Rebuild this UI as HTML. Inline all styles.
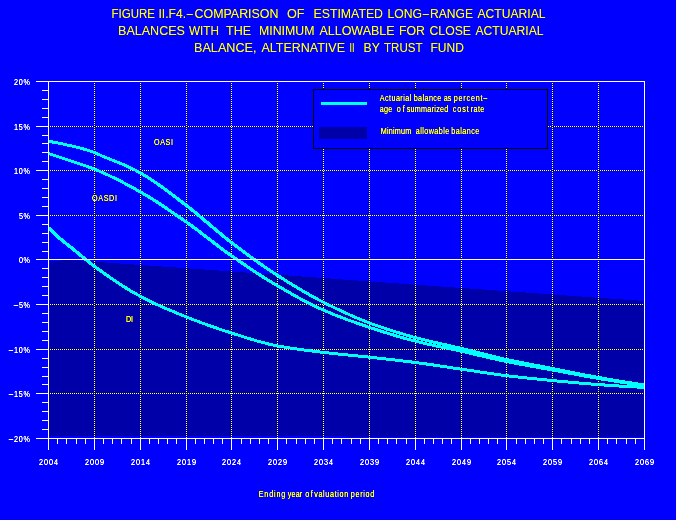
<!DOCTYPE html>
<html lang="en"><head><meta charset="utf-8"><title>Figure II.F4</title>
<style>html,body{margin:0;padding:0;background:#0000ff;overflow:hidden}svg{display:block}text{font-family:"Liberation Sans",Arial,Helvetica,sans-serif;white-space:pre}.t{fill:#ffff00;font-size:12px}.s{fill:#ffff00;font-size:9px}.w{fill:#ffffff;font-size:8.5px}</style></head><body>
<svg width="676" height="520" viewBox="0 0 676 520">
<rect x="0" y="0" width="676" height="520" fill="#0000ff"/>
<defs><filter id="cr" x="0" y="0" width="100%" height="100%" filterUnits="userSpaceOnUse" color-interpolation-filters="sRGB"><feComponentTransfer><feFuncA type="linear" slope="1.5" intercept="0"/></feComponentTransfer></filter><filter id="ct" x="0" y="0" width="100%" height="100%" filterUnits="userSpaceOnUse" color-interpolation-filters="sRGB"><feComponentTransfer><feFuncA type="linear" slope="1.15" intercept="0"/></feComponentTransfer></filter></defs>
<g shape-rendering="crispEdges">
<path d="M49,436V348H50V261H61V260H78V261H95V262H106V263H120V264H134V265H148V266H162V267H176V268H190V269H204V270H218V271H232V272H246V273H260V274H274V275H288V276H302V277H316V278H330V279H343V280H357V281H371V282H385V283H399V284H413V285H427V286H441V287H455V288H469V289H483V290H497V291H511V292H525V293H539V294H553V295H567V296H581V297H595V298H609V299H623V300H637V301H644V437H346V436Z" fill="#0000a8"/>
<rect x="49" y="126" width="595" height="1" fill="#000"/>
<line x1="50" y1="126.5" x2="644" y2="126.5" stroke="#fff" stroke-width="1" stroke-dasharray="1 1"/>
<rect x="49" y="170" width="595" height="1" fill="#000"/>
<line x1="50" y1="170.5" x2="644" y2="170.5" stroke="#fff" stroke-width="1" stroke-dasharray="1 1"/>
<rect x="49" y="215" width="595" height="1" fill="#000"/>
<line x1="50" y1="215.5" x2="644" y2="215.5" stroke="#fff" stroke-width="1" stroke-dasharray="1 1"/>
<rect x="49" y="304" width="595" height="1" fill="#000"/>
<line x1="50" y1="304.5" x2="644" y2="304.5" stroke="#fff" stroke-width="1" stroke-dasharray="1 1"/>
<rect x="49" y="349" width="595" height="1" fill="#000"/>
<line x1="50" y1="349.5" x2="644" y2="349.5" stroke="#fff" stroke-width="1" stroke-dasharray="1 1"/>
<rect x="49" y="393" width="595" height="1" fill="#000"/>
<line x1="50" y1="393.5" x2="644" y2="393.5" stroke="#fff" stroke-width="1" stroke-dasharray="1 1"/>
<rect x="94" y="82" width="1" height="356" fill="#000"/>
<line x1="94.5" y1="83" x2="94.5" y2="438" stroke="#fff" stroke-width="1" stroke-dasharray="1 1"/>
<rect x="140" y="82" width="1" height="356" fill="#000"/>
<line x1="140.5" y1="83" x2="140.5" y2="438" stroke="#fff" stroke-width="1" stroke-dasharray="1 1"/>
<rect x="186" y="82" width="1" height="356" fill="#000"/>
<line x1="186.5" y1="83" x2="186.5" y2="438" stroke="#fff" stroke-width="1" stroke-dasharray="1 1"/>
<rect x="231" y="82" width="1" height="356" fill="#000"/>
<line x1="231.5" y1="83" x2="231.5" y2="438" stroke="#fff" stroke-width="1" stroke-dasharray="1 1"/>
<rect x="277" y="82" width="1" height="356" fill="#000"/>
<line x1="277.5" y1="83" x2="277.5" y2="438" stroke="#fff" stroke-width="1" stroke-dasharray="1 1"/>
<rect x="323" y="82" width="1" height="356" fill="#000"/>
<line x1="323.5" y1="83" x2="323.5" y2="438" stroke="#fff" stroke-width="1" stroke-dasharray="1 1"/>
<rect x="369" y="82" width="1" height="356" fill="#000"/>
<line x1="369.5" y1="83" x2="369.5" y2="438" stroke="#fff" stroke-width="1" stroke-dasharray="1 1"/>
<rect x="415" y="82" width="1" height="356" fill="#000"/>
<line x1="415.5" y1="83" x2="415.5" y2="438" stroke="#fff" stroke-width="1" stroke-dasharray="1 1"/>
<rect x="461" y="82" width="1" height="356" fill="#000"/>
<line x1="461.5" y1="83" x2="461.5" y2="438" stroke="#fff" stroke-width="1" stroke-dasharray="1 1"/>
<rect x="506" y="82" width="1" height="356" fill="#000"/>
<line x1="506.5" y1="83" x2="506.5" y2="438" stroke="#fff" stroke-width="1" stroke-dasharray="1 1"/>
<rect x="552" y="82" width="1" height="356" fill="#000"/>
<line x1="552.5" y1="83" x2="552.5" y2="438" stroke="#fff" stroke-width="1" stroke-dasharray="1 1"/>
<rect x="598" y="82" width="1" height="356" fill="#000"/>
<line x1="598.5" y1="83" x2="598.5" y2="438" stroke="#fff" stroke-width="1" stroke-dasharray="1 1"/>
</g>
<clipPath id="pc"><rect x="49" y="82" width="595" height="356"/></clipPath>
<g shape-rendering="crispEdges" fill="#00ffff" stroke="none" clip-path="url(#pc)">
<polygon points="48.5,139.8 48.6,139.8 53.2,140.6 57.8,141.5 62.4,142.4 67.0,143.4 71.5,144.4 76.1,145.5 80.7,146.7 85.3,148.0 90.0,149.4 94.6,150.9 99.3,153.1 103.8,155.1 108.4,157.0 113.0,158.7 117.5,160.5 122.2,162.4 126.8,164.4 131.4,166.6 136.0,168.8 140.7,171.3 145.3,174.0 149.9,176.9 154.6,179.9 159.2,183.1 163.8,186.4 168.4,189.8 173.0,193.2 177.6,196.7 182.2,200.2 186.8,203.7 191.4,207.3 196.0,211.0 200.6,214.8 205.2,218.7 209.8,222.6 214.4,226.5 219.0,230.3 223.5,234.1 228.1,237.8 232.6,241.4 237.2,244.9 241.8,248.3 246.3,251.7 250.9,255.1 255.5,258.4 260.0,261.7 264.6,264.9 269.2,268.0 273.7,271.1 278.3,274.0 282.9,277.0 287.4,279.9 292.0,282.7 296.6,285.5 301.2,288.2 305.7,290.9 310.3,293.5 314.8,296.0 319.4,298.5 324.0,300.8 328.6,303.2 333.1,305.4 337.7,307.6 342.3,309.8 346.8,311.9 351.4,314.0 356.0,316.0 360.5,317.9 365.1,319.7 369.7,321.5 374.2,323.2 378.8,324.8 383.4,326.3 388.0,327.9 392.5,329.3 397.1,330.8 401.7,332.1 406.3,333.5 410.8,334.8 415.4,336.0 420.0,337.3 424.6,338.4 429.2,339.5 433.7,340.6 438.3,341.7 442.9,342.7 447.5,343.7 452.1,344.8 456.7,345.8 461.2,346.9 465.8,348.0 470.4,349.2 475.0,350.3 479.6,351.5 484.2,352.6 488.8,353.8 493.3,354.9 497.9,356.0 502.5,357.1 507.1,358.1 511.7,359.1 516.2,360.0 520.8,360.9 525.4,361.8 530.0,362.7 534.6,363.6 539.1,364.4 543.7,365.3 548.3,366.2 552.9,367.1 557.5,368.0 562.1,368.9 566.7,369.8 571.2,370.7 575.8,371.6 580.4,372.6 585.0,373.5 589.6,374.3 594.2,375.2 598.7,376.0 603.3,376.8 607.9,377.6 612.5,378.4 617.1,379.2 621.6,379.9 626.2,380.7 630.8,381.4 635.4,382.1 640.0,382.8 644.6,383.5 644.5,386.5 644.4,386.5 639.9,385.8 635.3,385.1 630.7,384.4 626.1,383.7 621.5,382.9 616.9,382.2 612.3,381.4 607.7,380.6 603.2,379.8 598.6,379.0 594.0,378.2 589.4,377.3 584.8,376.5 580.2,375.6 575.6,374.6 571.0,373.7 566.5,372.8 561.9,371.9 557.3,371.0 552.7,370.1 548.1,369.2 543.5,368.3 539.0,367.4 534.4,366.6 529.8,365.7 525.2,364.8 520.6,363.9 516.0,363.0 511.4,362.1 506.9,361.1 502.3,360.1 497.7,359.0 493.1,357.9 488.5,356.8 483.9,355.6 479.3,354.5 474.7,353.3 470.1,352.2 465.6,351.0 461.0,349.9 456.4,348.8 451.8,347.8 447.2,346.7 442.7,345.7 438.1,344.7 433.5,343.6 428.9,342.5 424.3,341.4 419.7,340.3 415.1,339.0 410.5,337.8 405.9,336.5 401.3,335.1 396.7,333.8 392.2,332.3 387.6,330.9 383.0,329.3 378.4,327.8 373.8,326.2 369.2,324.5 364.6,322.7 360.0,320.9 355.4,319.0 350.8,317.0 346.2,314.9 341.6,312.8 337.0,310.6 332.4,308.4 327.8,306.2 323.2,303.8 318.6,301.5 314.0,299.0 309.4,296.5 304.8,293.9 300.2,291.2 295.6,288.5 291.0,285.7 286.4,282.9 281.8,280.0 277.2,277.0 272.6,274.1 268.0,271.0 263.3,267.9 258.7,264.7 254.1,261.4 249.5,258.1 244.9,254.7 240.3,251.3 235.7,247.9 231.1,244.4 226.5,240.8 221.9,237.1 217.3,233.3 212.7,229.5 208.1,225.6 203.5,221.7 199.0,217.8 194.4,214.0 189.9,210.3 185.3,206.7 180.7,203.2 176.1,199.7 171.6,196.2 167.0,192.8 162.4,189.4 157.9,186.1 153.3,182.9 148.8,179.9 144.3,177.0 139.7,174.3 135.2,171.8 130.7,169.6 126.1,167.4 121.5,165.4 117.0,163.5 112.4,161.7 107.8,160.0 103.2,158.1 98.6,156.1 94.1,153.9 89.6,152.4 85.0,151.0 80.4,149.7 75.9,148.5 71.3,147.4 66.7,146.4 62.1,145.4 57.6,144.5 53.0,143.6 48.4,142.8"/>
<polygon points="48.5,152.0 48.7,152.0 53.3,153.5 57.9,155.0 62.5,156.6 67.1,158.1 71.6,159.6 76.2,161.2 80.8,162.7 85.4,164.2 90.0,165.9 94.6,167.6 99.2,169.5 103.8,171.5 108.4,173.6 113.1,175.8 117.7,178.0 122.3,180.4 126.9,182.8 131.5,185.2 136.1,187.8 140.7,190.3 145.3,193.0 149.9,195.7 154.5,198.6 159.1,201.5 163.7,204.6 168.3,207.7 172.9,210.8 177.5,214.0 182.1,217.2 186.7,220.4 191.3,223.6 195.9,227.0 200.5,230.4 205.1,234.0 209.7,237.5 214.3,241.0 218.9,244.5 223.4,248.0 228.0,251.3 232.5,254.6 237.1,257.7 241.7,260.9 246.3,264.0 250.8,267.1 255.4,270.2 260.0,273.1 264.5,276.1 269.1,278.9 273.7,281.7 278.2,284.4 282.8,287.1 287.4,289.7 291.9,292.3 296.5,294.9 301.1,297.4 305.7,299.8 310.2,302.1 314.8,304.4 319.3,306.6 323.9,308.6 328.5,310.6 333.0,312.5 337.6,314.4 342.2,316.1 346.7,317.9 351.3,319.5 355.9,321.2 360.5,322.8 365.1,324.3 369.6,325.9 374.2,327.4 378.8,328.9 383.4,330.4 388.0,331.8 392.5,333.2 397.1,334.6 401.7,335.9 406.3,337.2 410.8,338.4 415.4,339.6 420.0,340.8 424.6,341.9 429.1,342.9 433.7,343.9 438.3,344.9 442.9,345.8 447.5,346.8 452.1,347.7 456.6,348.7 461.2,349.7 465.8,350.7 470.4,351.8 475.0,352.9 479.6,353.9 484.2,355.0 488.7,356.1 493.3,357.1 497.9,358.2 502.5,359.1 507.1,360.1 511.6,361.0 516.2,361.9 520.8,362.8 525.4,363.6 530.0,364.4 534.6,365.2 539.1,366.1 543.7,366.9 548.3,367.7 552.9,368.6 557.5,369.4 562.1,370.3 566.7,371.2 571.2,372.0 575.8,372.9 580.4,373.8 585.0,374.6 589.6,375.4 594.1,376.2 598.7,377.0 603.3,377.8 607.9,378.5 612.5,379.3 617.1,380.0 621.6,380.7 626.2,381.4 630.8,382.1 635.4,382.7 640.0,383.4 644.6,384.0 644.5,387.0 644.4,387.0 639.9,386.4 635.3,385.7 630.7,385.1 626.1,384.4 621.5,383.7 616.9,383.0 612.3,382.3 607.8,381.5 603.2,380.8 598.6,380.0 594.0,379.2 589.4,378.4 584.8,377.6 580.2,376.8 575.6,375.9 571.1,375.0 566.5,374.2 561.9,373.3 557.3,372.4 552.7,371.6 548.1,370.7 543.6,369.9 539.0,369.1 534.4,368.2 529.8,367.4 525.2,366.6 520.6,365.8 516.0,364.9 511.5,364.0 506.9,363.1 502.3,362.1 497.7,361.2 493.1,360.1 488.5,359.1 483.9,358.0 479.3,356.9 474.7,355.9 470.2,354.8 465.6,353.7 461.0,352.7 456.4,351.7 451.8,350.7 447.3,349.8 442.7,348.8 438.1,347.9 433.5,346.9 428.9,345.9 424.3,344.9 419.7,343.8 415.1,342.6 410.5,341.4 405.9,340.2 401.3,338.9 396.8,337.6 392.2,336.2 387.6,334.8 383.0,333.4 378.4,331.9 373.8,330.4 369.2,328.9 364.6,327.3 360.0,325.8 355.4,324.2 350.8,322.5 346.3,320.9 341.7,319.1 337.1,317.4 332.5,315.5 327.9,313.6 323.3,311.6 318.6,309.6 314.0,307.4 309.4,305.1 304.8,302.8 300.2,300.4 295.6,297.9 291.0,295.3 286.4,292.7 281.8,290.1 277.2,287.4 272.6,284.7 268.0,281.9 263.4,279.1 258.8,276.1 254.2,273.2 249.6,270.1 245.0,267.0 240.4,263.9 235.8,260.7 231.2,257.6 226.6,254.3 222.0,251.0 217.4,247.5 212.8,244.0 208.2,240.5 203.6,237.0 199.1,233.4 194.5,230.0 189.9,226.6 185.4,223.4 180.8,220.2 176.2,217.0 171.7,213.8 167.1,210.7 162.5,207.6 158.0,204.5 153.4,201.6 148.8,198.7 144.3,196.0 139.7,193.3 135.2,190.8 130.6,188.2 126.0,185.8 121.4,183.4 116.9,181.0 112.3,178.8 107.8,176.6 103.2,174.5 98.6,172.5 94.1,170.6 89.5,168.9 85.0,167.2 80.4,165.7 75.8,164.2 71.2,162.6 66.6,161.1 62.0,159.6 57.5,158.0 52.9,156.5 48.3,155.0"/>
<polygon points="48.5,226.5 49.5,226.5 54.1,231.0 58.6,235.1 63.1,238.9 67.6,242.6 72.2,246.2 76.8,250.0 81.4,253.8 86.0,257.6 90.5,261.3 95.1,264.8 99.6,268.1 104.2,271.4 108.7,274.6 113.3,277.8 117.9,280.9 122.4,283.9 127.0,286.8 131.5,289.6 136.1,292.2 140.6,294.7 145.2,297.1 149.7,299.4 154.3,301.6 158.9,303.8 163.4,305.8 168.0,307.8 172.6,309.7 177.2,311.6 181.7,313.5 186.3,315.3 190.9,317.1 195.5,318.9 200.0,320.6 204.6,322.3 209.2,324.0 213.8,325.6 218.3,327.1 222.9,328.7 227.5,330.2 232.1,331.6 236.7,333.1 241.2,334.5 245.8,336.0 250.4,337.4 255.0,338.8 259.6,340.1 264.1,341.3 268.7,342.5 273.3,343.5 277.8,344.4 282.4,345.3 287.0,346.0 291.5,346.8 296.1,347.4 300.7,348.1 305.3,348.7 309.9,349.2 314.5,349.8 319.0,350.4 323.6,350.9 328.2,351.4 332.8,351.9 337.4,352.4 342.0,352.9 346.5,353.4 351.1,353.8 355.7,354.3 360.3,354.7 364.9,355.2 369.5,355.7 374.0,356.2 378.6,356.7 383.2,357.2 387.8,357.7 392.4,358.2 397.0,358.7 401.6,359.3 406.1,359.8 410.7,360.4 415.3,361.0 419.9,361.6 424.5,362.2 429.1,362.9 433.7,363.5 438.3,364.2 442.8,364.9 447.4,365.6 452.0,366.3 456.6,367.0 461.2,367.6 465.8,368.3 470.3,369.0 474.9,369.7 479.5,370.4 484.1,371.1 488.7,371.8 493.3,372.4 497.8,373.1 502.4,373.7 507.0,374.3 511.6,374.8 516.2,375.3 520.8,375.8 525.3,376.3 529.9,376.8 534.5,377.2 539.1,377.7 543.7,378.1 548.3,378.6 552.8,379.0 557.4,379.5 562.0,379.9 566.6,380.4 571.2,380.8 575.8,381.2 580.3,381.6 584.9,382.0 589.5,382.4 594.1,382.8 598.7,383.1 603.3,383.4 607.8,383.8 612.4,384.1 617.0,384.4 621.6,384.7 626.2,384.9 630.8,385.2 635.3,385.4 639.9,385.7 644.5,385.9 644.5,388.9 644.5,388.9 639.9,388.7 635.3,388.4 630.7,388.2 626.1,387.9 621.6,387.7 617.0,387.4 612.4,387.1 607.8,386.8 603.2,386.4 598.6,386.1 594.0,385.8 589.5,385.4 584.9,385.0 580.3,384.6 575.7,384.2 571.1,383.8 566.5,383.4 561.9,382.9 557.4,382.5 552.8,382.0 548.2,381.6 543.6,381.1 539.0,380.7 534.4,380.2 529.8,379.8 525.3,379.3 520.7,378.8 516.1,378.3 511.5,377.8 506.9,377.3 502.3,376.7 497.7,376.1 493.1,375.4 488.6,374.8 484.0,374.1 479.4,373.4 474.8,372.7 470.2,372.0 465.6,371.3 461.1,370.6 456.5,370.0 451.9,369.3 447.3,368.6 442.7,367.9 438.1,367.2 433.5,366.5 429.0,365.9 424.4,365.2 419.8,364.6 415.2,364.0 410.6,363.4 406.1,362.8 401.5,362.3 396.9,361.7 392.3,361.2 387.7,360.7 383.1,360.2 378.6,359.7 374.0,359.2 369.4,358.7 364.8,358.2 360.2,357.7 355.6,357.3 351.1,356.8 346.5,356.4 341.9,355.9 337.3,355.4 332.7,354.9 328.1,354.4 323.5,353.9 318.9,353.4 314.4,352.8 309.8,352.2 305.2,351.7 300.6,351.1 296.0,350.4 291.4,349.8 286.8,349.0 282.2,348.3 277.6,347.4 273.0,346.5 268.4,345.5 263.8,344.3 259.2,343.1 254.6,341.8 250.0,340.4 245.4,339.0 240.9,337.5 236.3,336.1 231.7,334.6 227.1,333.2 222.5,331.7 217.9,330.1 213.3,328.6 208.7,327.0 204.1,325.3 199.5,323.6 194.9,321.9 190.4,320.1 185.8,318.3 181.2,316.5 176.6,314.6 172.0,312.7 167.4,310.8 162.8,308.8 158.2,306.8 153.6,304.6 149.0,302.4 144.4,300.1 139.8,297.7 135.1,295.2 130.5,292.6 125.9,289.8 121.3,286.9 116.7,283.9 112.1,280.8 107.5,277.6 102.9,274.4 98.3,271.1 93.6,267.8 89.0,264.3 84.4,260.6 79.8,256.8 75.2,253.0 70.6,249.2 66.1,245.6 61.4,241.9 56.8,238.1 52.1,234.0 47.5,229.5"/>
</g>
<g shape-rendering="crispEdges" fill="#fff">
<rect x="36" y="259" width="608" height="1"/>
<rect x="36" y="81" width="609" height="1"/>
<rect x="36" y="438" width="609" height="1"/>
<rect x="48" y="81" width="1" height="369"/>
<rect x="644" y="81" width="1" height="369"/>
<rect x="36" y="81" width="12" height="1"/>
<rect x="42" y="90" width="6" height="1"/>
<rect x="42" y="99" width="6" height="1"/>
<rect x="42" y="108" width="6" height="1"/>
<rect x="42" y="117" width="6" height="1"/>
<rect x="36" y="126" width="12" height="1"/>
<rect x="42" y="135" width="6" height="1"/>
<rect x="42" y="143" width="6" height="1"/>
<rect x="42" y="152" width="6" height="1"/>
<rect x="42" y="161" width="6" height="1"/>
<rect x="36" y="170" width="12" height="1"/>
<rect x="42" y="179" width="6" height="1"/>
<rect x="42" y="188" width="6" height="1"/>
<rect x="42" y="197" width="6" height="1"/>
<rect x="42" y="206" width="6" height="1"/>
<rect x="36" y="215" width="12" height="1"/>
<rect x="42" y="224" width="6" height="1"/>
<rect x="42" y="233" width="6" height="1"/>
<rect x="42" y="242" width="6" height="1"/>
<rect x="42" y="251" width="6" height="1"/>
<rect x="36" y="259" width="12" height="1"/>
<rect x="42" y="268" width="6" height="1"/>
<rect x="42" y="277" width="6" height="1"/>
<rect x="42" y="286" width="6" height="1"/>
<rect x="42" y="295" width="6" height="1"/>
<rect x="36" y="304" width="12" height="1"/>
<rect x="42" y="313" width="6" height="1"/>
<rect x="42" y="322" width="6" height="1"/>
<rect x="42" y="331" width="6" height="1"/>
<rect x="42" y="340" width="6" height="1"/>
<rect x="36" y="349" width="12" height="1"/>
<rect x="42" y="358" width="6" height="1"/>
<rect x="42" y="367" width="6" height="1"/>
<rect x="42" y="376" width="6" height="1"/>
<rect x="42" y="384" width="6" height="1"/>
<rect x="36" y="393" width="12" height="1"/>
<rect x="42" y="402" width="6" height="1"/>
<rect x="42" y="411" width="6" height="1"/>
<rect x="42" y="420" width="6" height="1"/>
<rect x="42" y="429" width="6" height="1"/>
<rect x="36" y="438" width="12" height="1"/>
<rect x="48" y="438" width="1" height="12"/>
<rect x="57" y="438" width="1" height="6"/>
<rect x="66" y="438" width="1" height="6"/>
<rect x="76" y="438" width="1" height="6"/>
<rect x="85" y="438" width="1" height="6"/>
<rect x="94" y="438" width="1" height="12"/>
<rect x="103" y="438" width="1" height="6"/>
<rect x="112" y="438" width="1" height="6"/>
<rect x="121" y="438" width="1" height="6"/>
<rect x="131" y="438" width="1" height="6"/>
<rect x="140" y="438" width="1" height="12"/>
<rect x="149" y="438" width="1" height="6"/>
<rect x="158" y="438" width="1" height="6"/>
<rect x="167" y="438" width="1" height="6"/>
<rect x="176" y="438" width="1" height="6"/>
<rect x="186" y="438" width="1" height="12"/>
<rect x="195" y="438" width="1" height="6"/>
<rect x="204" y="438" width="1" height="6"/>
<rect x="213" y="438" width="1" height="6"/>
<rect x="222" y="438" width="1" height="6"/>
<rect x="231" y="438" width="1" height="12"/>
<rect x="241" y="438" width="1" height="6"/>
<rect x="250" y="438" width="1" height="6"/>
<rect x="259" y="438" width="1" height="6"/>
<rect x="268" y="438" width="1" height="6"/>
<rect x="277" y="438" width="1" height="12"/>
<rect x="286" y="438" width="1" height="6"/>
<rect x="296" y="438" width="1" height="6"/>
<rect x="305" y="438" width="1" height="6"/>
<rect x="314" y="438" width="1" height="6"/>
<rect x="323" y="438" width="1" height="12"/>
<rect x="332" y="438" width="1" height="6"/>
<rect x="341" y="438" width="1" height="6"/>
<rect x="351" y="438" width="1" height="6"/>
<rect x="360" y="438" width="1" height="6"/>
<rect x="369" y="438" width="1" height="12"/>
<rect x="378" y="438" width="1" height="6"/>
<rect x="387" y="438" width="1" height="6"/>
<rect x="396" y="438" width="1" height="6"/>
<rect x="406" y="438" width="1" height="6"/>
<rect x="415" y="438" width="1" height="12"/>
<rect x="424" y="438" width="1" height="6"/>
<rect x="433" y="438" width="1" height="6"/>
<rect x="442" y="438" width="1" height="6"/>
<rect x="451" y="438" width="1" height="6"/>
<rect x="461" y="438" width="1" height="12"/>
<rect x="470" y="438" width="1" height="6"/>
<rect x="479" y="438" width="1" height="6"/>
<rect x="488" y="438" width="1" height="6"/>
<rect x="497" y="438" width="1" height="6"/>
<rect x="506" y="438" width="1" height="12"/>
<rect x="516" y="438" width="1" height="6"/>
<rect x="525" y="438" width="1" height="6"/>
<rect x="534" y="438" width="1" height="6"/>
<rect x="543" y="438" width="1" height="6"/>
<rect x="552" y="438" width="1" height="12"/>
<rect x="561" y="438" width="1" height="6"/>
<rect x="571" y="438" width="1" height="6"/>
<rect x="580" y="438" width="1" height="6"/>
<rect x="589" y="438" width="1" height="6"/>
<rect x="598" y="438" width="1" height="12"/>
<rect x="607" y="438" width="1" height="6"/>
<rect x="616" y="438" width="1" height="6"/>
<rect x="626" y="438" width="1" height="6"/>
<rect x="635" y="438" width="1" height="6"/>
<rect x="644" y="438" width="1" height="12"/>
</g>
<g shape-rendering="crispEdges">
<rect x="313.5" y="89.5" width="234" height="59" fill="#0000ff" stroke="#000" stroke-width="1"/>
<rect x="321" y="102" width="46" height="3" fill="#00ffff"/>
<rect x="319" y="127" width="48" height="12" fill="#0000a8"/>
</g>
<g filter="url(#ct)">
<text class="t" x="111.5" y="18" textLength="43.5" lengthAdjust="spacingAndGlyphs">FIGURE</text>
<text class="t" x="158.5" y="18" textLength="27.5" lengthAdjust="spacingAndGlyphs">II.F4.</text>
<text class="t" x="186.7" y="18" textLength="6.1" lengthAdjust="spacingAndGlyphs">–</text>
<text class="t" x="194.5" y="18" textLength="84.0" lengthAdjust="spacingAndGlyphs">COMPARISON</text>
<text class="t" x="287.0" y="18" textLength="17.5" lengthAdjust="spacingAndGlyphs">OF</text>
<text class="t" x="313.5" y="18" textLength="69.5" lengthAdjust="spacingAndGlyphs">ESTIMATED</text>
<text class="t" x="387.5" y="18" textLength="34.5" lengthAdjust="spacingAndGlyphs">LONG</text>
<text class="t" x="422.7" y="18" textLength="6.1" lengthAdjust="spacingAndGlyphs">–</text>
<text class="t" x="430.0" y="18" textLength="43.0" lengthAdjust="spacingAndGlyphs">RANGE</text>
<text class="t" x="477.5" y="18" textLength="68.0" lengthAdjust="spacingAndGlyphs">ACTUARIAL</text>
<text class="t" x="118.0" y="35" textLength="67.0" lengthAdjust="spacingAndGlyphs">BALANCES</text>
<text class="t" x="189.0" y="35" textLength="30.0" lengthAdjust="spacingAndGlyphs">WITH</text>
<text class="t" x="226.0" y="35" textLength="25.0" lengthAdjust="spacingAndGlyphs">THE</text>
<text class="t" x="259.0" y="35" textLength="55.5" lengthAdjust="spacingAndGlyphs">MINIMUM</text>
<text class="t" x="319.5" y="35" textLength="75.0" lengthAdjust="spacingAndGlyphs">ALLOWABLE</text>
<text class="t" x="399.0" y="35" textLength="26.0" lengthAdjust="spacingAndGlyphs">FOR</text>
<text class="t" x="429.5" y="35" textLength="41.5" lengthAdjust="spacingAndGlyphs">CLOSE</text>
<text class="t" x="475.5" y="35" textLength="68.0" lengthAdjust="spacingAndGlyphs">ACTUARIAL</text>
<text class="t" x="194.0" y="52" textLength="62.5" lengthAdjust="spacingAndGlyphs">BALANCE,</text>
<text class="t" x="261.5" y="52" textLength="83.5" lengthAdjust="spacingAndGlyphs">ALTERNATIVE</text>
<text class="t" x="349.5" y="52" textLength="5.0" lengthAdjust="spacingAndGlyphs">II</text>
<text class="t" x="363.5" y="52" textLength="16.3" lengthAdjust="spacingAndGlyphs">BY</text>
<text class="t" x="384.0" y="52" textLength="38.5" lengthAdjust="spacingAndGlyphs">TRUST</text>
<text class="t" x="430.5" y="52" textLength="33.5" lengthAdjust="spacingAndGlyphs">FUND</text>
</g>
<g filter="url(#cr)">
<text class="w" transform="translate(14,85) scale(0.85,1)" textLength="18.8" lengthAdjust="spacing">20%</text>
<text class="w" transform="translate(14,130) scale(0.85,1)" textLength="18.8" lengthAdjust="spacing">15%</text>
<text class="w" transform="translate(14,174) scale(0.85,1)" textLength="18.8" lengthAdjust="spacing">10%</text>
<text class="w" transform="translate(19,219) scale(0.85,1)" textLength="12.9" lengthAdjust="spacing">5%</text>
<text class="w" transform="translate(19,263) scale(0.85,1)" textLength="12.9" lengthAdjust="spacing">0%</text>
<text class="w" transform="translate(19,308) scale(0.85,1)" textLength="12.9" lengthAdjust="spacing">5%</text>
<text class="w" x="13.8" y="308" textLength="4.4" lengthAdjust="spacingAndGlyphs">–</text>
<text class="w" transform="translate(14,353) scale(0.85,1)" textLength="18.8" lengthAdjust="spacing">10%</text>
<text class="w" x="8.8" y="353" textLength="4.4" lengthAdjust="spacingAndGlyphs">–</text>
<text class="w" transform="translate(14,397) scale(0.85,1)" textLength="18.8" lengthAdjust="spacing">15%</text>
<text class="w" x="8.8" y="397" textLength="4.4" lengthAdjust="spacingAndGlyphs">–</text>
<text class="w" transform="translate(14,442) scale(0.85,1)" textLength="18.8" lengthAdjust="spacing">20%</text>
<text class="w" x="8.8" y="442" textLength="4.4" lengthAdjust="spacingAndGlyphs">–</text>
<text class="w" transform="translate(39,465) scale(0.85,1)" textLength="22.4" lengthAdjust="spacing">2004</text>
<text class="w" transform="translate(85,465) scale(0.85,1)" textLength="22.4" lengthAdjust="spacing">2009</text>
<text class="w" transform="translate(131,465) scale(0.85,1)" textLength="22.4" lengthAdjust="spacing">2014</text>
<text class="w" transform="translate(177,465) scale(0.85,1)" textLength="22.4" lengthAdjust="spacing">2019</text>
<text class="w" transform="translate(222,465) scale(0.85,1)" textLength="22.4" lengthAdjust="spacing">2024</text>
<text class="w" transform="translate(268,465) scale(0.85,1)" textLength="22.4" lengthAdjust="spacing">2029</text>
<text class="w" transform="translate(314,465) scale(0.85,1)" textLength="22.4" lengthAdjust="spacing">2034</text>
<text class="w" transform="translate(360,465) scale(0.85,1)" textLength="22.4" lengthAdjust="spacing">2039</text>
<text class="w" transform="translate(406,465) scale(0.85,1)" textLength="22.4" lengthAdjust="spacing">2044</text>
<text class="w" transform="translate(452,465) scale(0.85,1)" textLength="22.4" lengthAdjust="spacing">2049</text>
<text class="w" transform="translate(497,465) scale(0.85,1)" textLength="22.4" lengthAdjust="spacing">2054</text>
<text class="w" transform="translate(543,465) scale(0.85,1)" textLength="22.4" lengthAdjust="spacing">2059</text>
<text class="w" transform="translate(589,465) scale(0.85,1)" textLength="22.4" lengthAdjust="spacing">2064</text>
<text class="w" transform="translate(635,465) scale(0.85,1)" textLength="22.4" lengthAdjust="spacing">2069</text>
<text class="s" transform="translate(154,145) scale(0.8,1)" textLength="23.8" lengthAdjust="spacing">OASI</text>
<text class="s" transform="translate(92,201) scale(0.8,1)" textLength="31.2" lengthAdjust="spacing">OASDI</text>
<text class="s" transform="translate(126,322) scale(0.8,1)" textLength="8.8" lengthAdjust="spacing">DI</text>
<text class="s" transform="translate(379.7,101) scale(0.8,1)" textLength="39.5" lengthAdjust="spacing">Actuarial</text>
<text class="s" transform="translate(413.7,101) scale(0.8,1)" textLength="34.5" lengthAdjust="spacing">balance</text>
<text class="s" transform="translate(443.7,101) scale(0.8,1)" textLength="9.5" lengthAdjust="spacing">as</text>
<text class="s" transform="translate(453.7,101) scale(0.8,1)" textLength="42.0" lengthAdjust="spacing">percent–</text>
<text class="s" transform="translate(379.7,112) scale(0.8,1)" textLength="15.7" lengthAdjust="spacing">age</text>
<text class="s" transform="translate(396.7,112) scale(0.8,1)" textLength="10.1" lengthAdjust="spacing">of</text>
<text class="s" transform="translate(406.7,112) scale(0.8,1)" textLength="52.0" lengthAdjust="spacing">summarized</text>
<text class="s" transform="translate(452.7,112) scale(0.8,1)" textLength="20.1" lengthAdjust="spacing">cost</text>
<text class="s" transform="translate(470.7,112) scale(0.8,1)" textLength="17.0" lengthAdjust="spacing">rate</text>
<text class="s" transform="translate(380.7,134) scale(0.8,1)" textLength="38.2" lengthAdjust="spacing">Minimum</text>
<text class="s" transform="translate(415.7,134) scale(0.8,1)" textLength="42.0" lengthAdjust="spacing">allowable</text>
<text class="s" transform="translate(451.2,134) scale(0.8,1)" textLength="35.1" lengthAdjust="spacing">balance</text>
<text class="s" transform="translate(258.7,497) scale(0.8,1)" textLength="33.2" lengthAdjust="spacing">Ending</text>
<text class="s" transform="translate(287.7,497) scale(0.8,1)" textLength="18.2" lengthAdjust="spacing">year</text>
<text class="s" transform="translate(305.2,497) scale(0.8,1)" textLength="9.5" lengthAdjust="spacing">of</text>
<text class="s" transform="translate(314.2,497) scale(0.8,1)" textLength="42.6" lengthAdjust="spacing">valuation</text>
<text class="s" transform="translate(350.7,497) scale(0.8,1)" textLength="29.5" lengthAdjust="spacing">period</text>
</g>
</svg></body></html>
